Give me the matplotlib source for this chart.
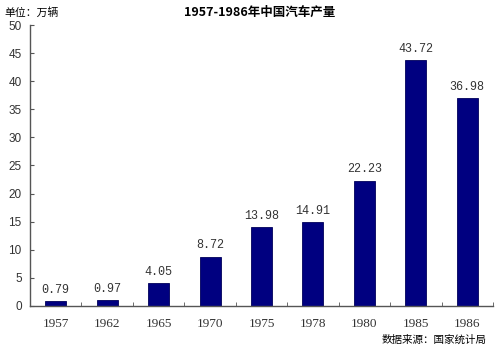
import numpy as np
import matplotlib.pyplot as plt

plt.rcParams['font.family'] = ['Noto Sans CJK SC', 'DejaVu Sans']

years = ["1957", "1962", "1965", "1970", "1975", "1978", "1980", "1985", "1986"]
output = [0.79, 0.97, 4.05, 8.72, 13.98, 14.91, 22.23, 43.72, 36.98]
yticks = [0, 5, 10, 15, 20, 25, 30, 35, 40, 45, 50]

fig = plt.figure(figsize=(5, 3.48), dpi=100)
ax = fig.add_axes([0.06, 0.121, 0.926, 0.807])

x = np.arange(len(years))
ax.bar(x, output, width=0.41, color="#000080", edgecolor="#00005a", linewidth=0.6)
for xi, v in zip(x, output):
    ax.text(xi, v + 1.0, "%.2f" % v, ha="center", va="bottom",
            fontsize=8.5, family="Liberation Mono", color="#333333")

ax.set_xlim(-0.5, len(years) - 0.5)
ax.set_ylim(0, 50)
ax.set_yticks(yticks)
ax.set_yticklabels([str(t) for t in yticks], family="Liberation Sans", fontsize=8.5, color="#333333")
ax.set_xticks(x)
ax.set_xticklabels(years, family="Liberation Serif", fontsize=9.5, color="#333333")
ax.tick_params(axis="x", length=0, pad=9)
ax.set_xticks(np.arange(-0.5, len(years)), minor=True)
ax.tick_params(axis="x", which="minor", direction="in", length=3, color="#555555")
ax.tick_params(axis="y", direction="in", length=3, color="#555555", pad=6)
for s in ["top", "right"]:
    ax.spines[s].set_visible(False)
for s in ["left", "bottom"]:
    ax.spines[s].set_color("#555555")
    ax.spines[s].set_linewidth(1.0)

fig.text(0.52, 0.965, "1957-1986年中国汽车产量", ha="center", va="center",
         fontsize=9, fontweight="bold")
fig.text(0.008, 0.965, "单位：万辆", ha="left", va="center", fontsize=7.8)
fig.text(0.973, 0.025, "数据来源：国家统计局", ha="right", va="center", fontsize=7.6)

fig.savefig("out.png", dpi=100)
